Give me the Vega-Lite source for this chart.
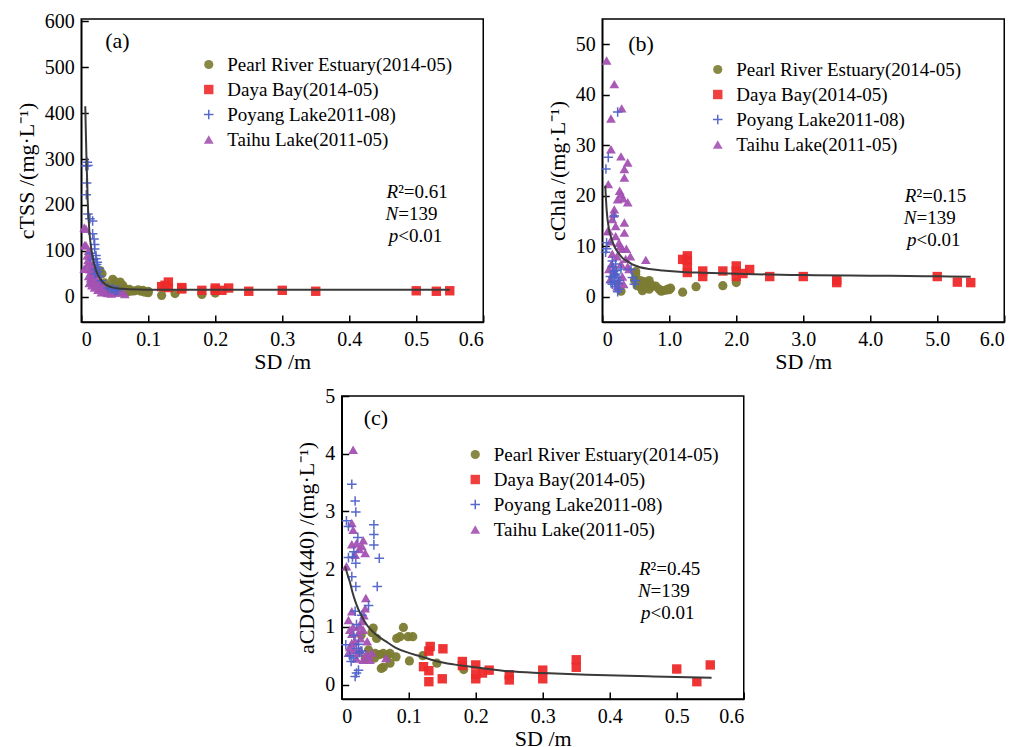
{
  "$schema": "https://vega.github.io/schema/vega-lite/v6.json",
  "background": "white",
  "padding": {"left": 14, "top": 10, "right": 5, "bottom": 5},
  "config": {
    "view": {"stroke": "black", "strokeWidth": 1.5},
    "axis": {"grid": false, "domainColor": "black", "domainWidth": 1.5, "tickColor": "black", "tickWidth": 1.5, "tickSize": -7, "labelFont": "Liberation Serif", "labelFontSize": 20, "labelColor": "black", "titleFont": "Liberation Serif", "titleFontSize": 22, "titleFontWeight": "normal", "titleColor": "black", "labelPadding": 14},
    "axisY": {"titlePadding": 6},
    "axisX": {"titlePadding": 2},
    "legend": {"labelFont": "Liberation Serif", "labelFontSize": 19, "labelColor": "black", "rowPadding": 5, "labelOffset": 9, "padding": 0, "symbolStrokeWidth": 1.5, "labelLimit": 400},
    "text": {"font": "Liberation Serif", "fontSize": 20, "color": "black", "lineBreak": "\n"}
  },
  "datasets": {
    "pts": [
      {"p":"a","s":"P","x":0.028,"y":57},{"p":"a","s":"P","x":0.031,"y":50},{"p":"a","s":"P","x":0.035,"y":30},{"p":"a","s":"P","x":0.04,"y":22},{"p":"a","s":"P","x":0.045,"y":16},{"p":"a","s":"P","x":0.047,"y":38},{"p":"a","s":"P","x":0.05,"y":33},{"p":"a","s":"P","x":0.052,"y":28},{"p":"a","s":"P","x":0.055,"y":20},{"p":"a","s":"P","x":0.058,"y":32},{"p":"a","s":"P","x":0.06,"y":14},{"p":"a","s":"P","x":0.062,"y":25},{"p":"a","s":"P","x":0.065,"y":18},{"p":"a","s":"P","x":0.068,"y":10},{"p":"a","s":"P","x":0.07,"y":14},{"p":"a","s":"P","x":0.072,"y":16},{"p":"a","s":"P","x":0.075,"y":12},{"p":"a","s":"P","x":0.08,"y":13},{"p":"a","s":"P","x":0.085,"y":15},{"p":"a","s":"P","x":0.089,"y":12},{"p":"a","s":"P","x":0.092,"y":14},{"p":"a","s":"P","x":0.095,"y":10},{"p":"a","s":"P","x":0.1,"y":12},{"p":"a","s":"P","x":0.1,"y":9},{"p":"a","s":"P","x":0.12,"y":3},{"p":"a","s":"P","x":0.14,"y":7},{"p":"a","s":"P","x":0.18,"y":5},{"p":"a","s":"P","x":0.2,"y":8},
      {"p":"a","s":"D","x":0.12,"y":22},{"p":"a","s":"D","x":0.125,"y":25},{"p":"a","s":"D","x":0.13,"y":32},{"p":"a","s":"D","x":0.13,"y":20},{"p":"a","s":"D","x":0.15,"y":17},{"p":"a","s":"D","x":0.15,"y":20},{"p":"a","s":"D","x":0.18,"y":14},{"p":"a","s":"D","x":0.2,"y":19},{"p":"a","s":"D","x":0.2,"y":14},{"p":"a","s":"D","x":0.21,"y":14},{"p":"a","s":"D","x":0.22,"y":19},{"p":"a","s":"D","x":0.25,"y":12},{"p":"a","s":"D","x":0.3,"y":14},{"p":"a","s":"D","x":0.35,"y":12},{"p":"a","s":"D","x":0.5,"y":13},{"p":"a","s":"D","x":0.53,"y":12},{"p":"a","s":"D","x":0.55,"y":13},
      {"p":"a","s":"T","x":0.0045,"y":151},{"p":"a","s":"T","x":0.007,"y":148},{"p":"a","s":"T","x":0.005,"y":112},{"p":"a","s":"T","x":0.007,"y":112},{"p":"a","s":"T","x":0.014,"y":90},{"p":"a","s":"T","x":0.009,"y":90},{"p":"a","s":"T","x":0.011,"y":100},{"p":"a","s":"T","x":0.009,"y":68},{"p":"a","s":"T","x":0.0045,"y":61},{"p":"a","s":"T","x":0.01,"y":80},{"p":"a","s":"T","x":0.012,"y":75},{"p":"a","s":"T","x":0.013,"y":60},{"p":"a","s":"T","x":0.015,"y":55},{"p":"a","s":"T","x":0.016,"y":70},{"p":"a","s":"T","x":0.018,"y":65},{"p":"a","s":"T","x":0.018,"y":55},{"p":"a","s":"T","x":0.011,"y":45},{"p":"a","s":"T","x":0.014,"y":40},{"p":"a","s":"T","x":0.015,"y":35},{"p":"a","s":"T","x":0.017,"y":45},{"p":"a","s":"T","x":0.019,"y":35},{"p":"a","s":"T","x":0.02,"y":50},{"p":"a","s":"T","x":0.022,"y":40},{"p":"a","s":"T","x":0.022,"y":25},{"p":"a","s":"T","x":0.024,"y":30},{"p":"a","s":"T","x":0.026,"y":25},{"p":"a","s":"T","x":0.027,"y":18},{"p":"a","s":"T","x":0.028,"y":30},{"p":"a","s":"T","x":0.03,"y":20},{"p":"a","s":"T","x":0.032,"y":15},{"p":"a","s":"T","x":0.033,"y":22},{"p":"a","s":"T","x":0.035,"y":12},{"p":"a","s":"T","x":0.038,"y":10},{"p":"a","s":"T","x":0.012,"y":30},{"p":"a","s":"T","x":0.016,"y":25},{"p":"a","s":"T","x":0.02,"y":20},{"p":"a","s":"T","x":0.025,"y":15},{"p":"a","s":"T","x":0.03,"y":10},{"p":"a","s":"T","x":0.04,"y":8},{"p":"a","s":"T","x":0.045,"y":7},{"p":"a","s":"T","x":0.05,"y":10},{"p":"a","s":"T","x":0.055,"y":9},{"p":"a","s":"T","x":0.06,"y":10},{"p":"a","s":"T","x":0.065,"y":6},
      {"p":"a","s":"Y","x":0.009,"y":293},{"p":"a","s":"Y","x":0.007,"y":285},{"p":"a","s":"Y","x":0.01,"y":286},{"p":"a","s":"Y","x":0.008,"y":248},{"p":"a","s":"Y","x":0.0075,"y":222},{"p":"a","s":"Y","x":0.01,"y":180},{"p":"a","s":"Y","x":0.013,"y":170},{"p":"a","s":"Y","x":0.017,"y":165},{"p":"a","s":"Y","x":0.017,"y":137},{"p":"a","s":"Y","x":0.019,"y":126},{"p":"a","s":"Y","x":0.02,"y":114},{"p":"a","s":"Y","x":0.02,"y":104},{"p":"a","s":"Y","x":0.015,"y":95},{"p":"a","s":"Y","x":0.022,"y":90},{"p":"a","s":"Y","x":0.022,"y":83},{"p":"a","s":"Y","x":0.018,"y":80},{"p":"a","s":"Y","x":0.024,"y":75},{"p":"a","s":"Y","x":0.023,"y":70},{"p":"a","s":"Y","x":0.026,"y":62},{"p":"a","s":"Y","x":0.022,"y":60},{"p":"a","s":"Y","x":0.025,"y":55},{"p":"a","s":"Y","x":0.021,"y":50},{"p":"a","s":"Y","x":0.028,"y":45},{"p":"a","s":"Y","x":0.03,"y":35},{"p":"a","s":"Y","x":0.04,"y":19},{"p":"a","s":"Y","x":0.044,"y":17},{"p":"a","s":"Y","x":0.047,"y":17},{"p":"a","s":"Y","x":0.05,"y":14},{"p":"a","s":"Y","x":0.052,"y":13},{"p":"a","s":"Y","x":0.055,"y":15},

      {"p":"b","s":"P","x":0.28,"y":1.1},{"p":"b","s":"P","x":0.5,"y":4.4},{"p":"b","s":"P","x":0.5,"y":5},{"p":"b","s":"P","x":0.48,"y":3.3},{"p":"b","s":"P","x":0.55,"y":2.5},{"p":"b","s":"P","x":0.58,"y":1.8},{"p":"b","s":"P","x":0.6,"y":1.2},{"p":"b","s":"P","x":0.65,"y":2},{"p":"b","s":"P","x":0.68,"y":2.8},{"p":"b","s":"P","x":0.7,"y":3.2},{"p":"b","s":"P","x":0.7,"y":1.5},{"p":"b","s":"P","x":0.75,"y":2.1},{"p":"b","s":"P","x":0.8,"y":2.1},{"p":"b","s":"P","x":0.85,"y":1.5},{"p":"b","s":"P","x":0.88,"y":1.1},{"p":"b","s":"P","x":0.9,"y":1.2},{"p":"b","s":"P","x":0.98,"y":1.5},{"p":"b","s":"P","x":1.0,"y":1.4},{"p":"b","s":"P","x":1.2,"y":0.9},{"p":"b","s":"P","x":1.4,"y":2},{"p":"b","s":"P","x":1.8,"y":2.2},{"p":"b","s":"P","x":2.0,"y":2.8},{"p":"b","s":"P","x":0.62,"y":3},{"p":"b","s":"P","x":0.72,"y":2.4},{"p":"b","s":"P","x":0.52,"y":2.2},{"p":"b","s":"P","x":1.02,"y":1.7},{"p":"b","s":"P","x":0.57,"y":3.2},{"p":"b","s":"P","x":0.95,"y":1.3},
      {"p":"b","s":"D","x":1.2,"y":7.4},{"p":"b","s":"D","x":1.27,"y":8.1},{"p":"b","s":"D","x":1.27,"y":7.2},{"p":"b","s":"D","x":1.27,"y":6},{"p":"b","s":"D","x":1.27,"y":4.8},{"p":"b","s":"D","x":1.5,"y":5.1},{"p":"b","s":"D","x":1.5,"y":4},{"p":"b","s":"D","x":1.8,"y":5.1},{"p":"b","s":"D","x":2.0,"y":6.1},{"p":"b","s":"D","x":2.0,"y":5.1},{"p":"b","s":"D","x":2.0,"y":4},{"p":"b","s":"D","x":2.1,"y":4.6},{"p":"b","s":"D","x":2.2,"y":5.4},{"p":"b","s":"D","x":2.5,"y":4},{"p":"b","s":"D","x":3.0,"y":4},{"p":"b","s":"D","x":3.5,"y":3.3},{"p":"b","s":"D","x":3.5,"y":2.8},{"p":"b","s":"D","x":5.0,"y":4},{"p":"b","s":"D","x":5.3,"y":2.9},{"p":"b","s":"D","x":5.5,"y":2.8},
      {"p":"b","s":"T","x":0.065,"y":46.8},{"p":"b","s":"T","x":0.18,"y":42.1},{"p":"b","s":"T","x":0.13,"y":35.3},{"p":"b","s":"T","x":0.29,"y":37.3},{"p":"b","s":"T","x":0.13,"y":29.2},{"p":"b","s":"T","x":0.28,"y":27.8},{"p":"b","s":"T","x":0.38,"y":26.6},{"p":"b","s":"T","x":0.33,"y":25.3},{"p":"b","s":"T","x":0.33,"y":23.6},{"p":"b","s":"T","x":0.09,"y":22.3},{"p":"b","s":"T","x":0.28,"y":20.3},{"p":"b","s":"T","x":0.38,"y":18.7},{"p":"b","s":"T","x":0.23,"y":19.3},{"p":"b","s":"T","x":0.18,"y":17.3},{"p":"b","s":"T","x":0.33,"y":14.7},{"p":"b","s":"T","x":0.15,"y":15.4},{"p":"b","s":"T","x":0.33,"y":12.7},{"p":"b","s":"T","x":0.1,"y":13},{"p":"b","s":"T","x":0.25,"y":10.7},{"p":"b","s":"T","x":0.3,"y":9.5},{"p":"b","s":"T","x":0.65,"y":7.3},{"p":"b","s":"T","x":0.12,"y":11},{"p":"b","s":"T","x":0.2,"y":12},{"p":"b","s":"T","x":0.22,"y":8},{"p":"b","s":"T","x":0.28,"y":6.5},{"p":"b","s":"T","x":0.35,"y":7.5},{"p":"b","s":"T","x":0.15,"y":8.5},{"p":"b","s":"T","x":0.4,"y":5.5},{"p":"b","s":"T","x":0.18,"y":5},{"p":"b","s":"T","x":0.3,"y":4},{"p":"b","s":"T","x":0.25,"y":3},{"p":"b","s":"T","x":0.1,"y":5.5},{"p":"b","s":"T","x":0.38,"y":6},{"p":"b","s":"T","x":0.2,"y":14},{"p":"b","s":"T","x":0.08,"y":13},{"p":"b","s":"T","x":0.42,"y":8},{"p":"b","s":"T","x":0.12,"y":3.5},{"p":"b","s":"T","x":0.32,"y":2.5},{"p":"b","s":"T","x":0.22,"y":2},{"p":"b","s":"T","x":0.27,"y":10},{"p":"b","s":"T","x":0.36,"y":9.5},{"p":"b","s":"T","x":0.17,"y":16.5},{"p":"b","s":"T","x":0.26,"y":21},{"p":"b","s":"T","x":0.31,"y":19.5},{"p":"b","s":"T","x":0.14,"y":6.5},
      {"p":"b","s":"Y","x":0.09,"y":27.6},{"p":"b","s":"Y","x":0.055,"y":25.3},{"p":"b","s":"Y","x":0.23,"y":36.6},{"p":"b","s":"Y","x":0.18,"y":16},{"p":"b","s":"Y","x":0.065,"y":10.7},{"p":"b","s":"Y","x":0.065,"y":9.5},{"p":"b","s":"Y","x":0.05,"y":8.8},{"p":"b","s":"Y","x":0.15,"y":7.1},{"p":"b","s":"Y","x":0.15,"y":6},{"p":"b","s":"Y","x":0.17,"y":5},{"p":"b","s":"Y","x":0.2,"y":4.5},{"p":"b","s":"Y","x":0.22,"y":3.8},{"p":"b","s":"Y","x":0.25,"y":3.2},{"p":"b","s":"Y","x":0.18,"y":3},{"p":"b","s":"Y","x":0.15,"y":2.5},{"p":"b","s":"Y","x":0.2,"y":2},{"p":"b","s":"Y","x":0.25,"y":1.5},{"p":"b","s":"Y","x":0.28,"y":5.5},{"p":"b","s":"Y","x":0.43,"y":5.4},{"p":"b","s":"Y","x":0.45,"y":3.8},{"p":"b","s":"Y","x":0.5,"y":3.2},{"p":"b","s":"Y","x":0.48,"y":2.5},{"p":"b","s":"Y","x":0.12,"y":4},{"p":"b","s":"Y","x":0.2,"y":6.5},{"p":"b","s":"Y","x":0.23,"y":1},{"p":"b","s":"Y","x":0.16,"y":3.8},{"p":"b","s":"Y","x":0.19,"y":4.2},{"p":"b","s":"Y","x":0.21,"y":5.2},{"p":"b","s":"Y","x":0.13,"y":2.8},{"p":"b","s":"Y","x":0.24,"y":2.6},

      {"p":"c","s":"P","x":0.029,"y":0.86},{"p":"c","s":"P","x":0.047,"y":0.98},{"p":"c","s":"P","x":0.052,"y":0.8},{"p":"c","s":"P","x":0.05,"y":0.54},{"p":"c","s":"P","x":0.049,"y":0.46},{"p":"c","s":"P","x":0.062,"y":0.54},{"p":"c","s":"P","x":0.062,"y":0.3},{"p":"c","s":"P","x":0.059,"y":0.28},{"p":"c","s":"P","x":0.072,"y":0.37},{"p":"c","s":"P","x":0.072,"y":0.54},{"p":"c","s":"P","x":0.081,"y":0.48},{"p":"c","s":"P","x":0.082,"y":0.8},{"p":"c","s":"P","x":0.087,"y":0.83},{"p":"c","s":"P","x":0.092,"y":0.99},{"p":"c","s":"P","x":0.099,"y":0.83},{"p":"c","s":"P","x":0.106,"y":0.83},{"p":"c","s":"P","x":0.101,"y":0.41},{"p":"c","s":"P","x":0.121,"y":0.5},{"p":"c","s":"P","x":0.142,"y":0.37},{"p":"c","s":"P","x":0.182,"y":0.26},{"p":"c","s":"P","x":0.057,"y":0.52},{"p":"c","s":"P","x":0.068,"y":0.5},{"p":"c","s":"P","x":0.04,"y":0.6},{"p":"c","s":"P","x":0.035,"y":0.45},{"p":"c","s":"P","x":0.045,"y":0.9},
      {"p":"c","s":"D","x":0.122,"y":0.31},{"p":"c","s":"D","x":0.132,"y":0.66},{"p":"c","s":"D","x":0.13,"y":0.58},{"p":"c","s":"D","x":0.13,"y":0.24},{"p":"c","s":"D","x":0.13,"y":0.05},{"p":"c","s":"D","x":0.151,"y":0.62},{"p":"c","s":"D","x":0.15,"y":0.1},{"p":"c","s":"D","x":0.18,"y":0.4},{"p":"c","s":"D","x":0.18,"y":0.33},{"p":"c","s":"D","x":0.2,"y":0.34},{"p":"c","s":"D","x":0.2,"y":0.18},{"p":"c","s":"D","x":0.2,"y":0.1},{"p":"c","s":"D","x":0.21,"y":0.2},{"p":"c","s":"D","x":0.22,"y":0.25},{"p":"c","s":"D","x":0.25,"y":0.17},{"p":"c","s":"D","x":0.25,"y":0.08},{"p":"c","s":"D","x":0.3,"y":0.25},{"p":"c","s":"D","x":0.3,"y":0.1},{"p":"c","s":"D","x":0.35,"y":0.43},{"p":"c","s":"D","x":0.35,"y":0.3},{"p":"c","s":"D","x":0.5,"y":0.27},{"p":"c","s":"D","x":0.53,"y":0.05},{"p":"c","s":"D","x":0.55,"y":0.34},
      {"p":"c","s":"T","x":0.017,"y":4.07},{"p":"c","s":"T","x":0.015,"y":2.8},{"p":"c","s":"T","x":0.017,"y":2.68},{"p":"c","s":"T","x":0.015,"y":2.43},{"p":"c","s":"T","x":0.03,"y":2.4},{"p":"c","s":"T","x":0.032,"y":2.5},{"p":"c","s":"T","x":0.035,"y":2.28},{"p":"c","s":"T","x":0.02,"y":2.25},{"p":"c","s":"T","x":0.007,"y":2.05},{"p":"c","s":"T","x":0.036,"y":1.5},{"p":"c","s":"T","x":0.035,"y":1.32},{"p":"c","s":"T","x":0.015,"y":1.27},{"p":"c","s":"T","x":0.01,"y":1.12},{"p":"c","s":"T","x":0.03,"y":1.1},{"p":"c","s":"T","x":0.017,"y":1.0},{"p":"c","s":"T","x":0.032,"y":0.95},{"p":"c","s":"T","x":0.015,"y":0.88},{"p":"c","s":"T","x":0.015,"y":0.72},{"p":"c","s":"T","x":0.01,"y":0.55},{"p":"c","s":"T","x":0.028,"y":0.6},{"p":"c","s":"T","x":0.037,"y":0.52},{"p":"c","s":"T","x":0.042,"y":0.43},{"p":"c","s":"T","x":0.032,"y":0.43},{"p":"c","s":"T","x":0.066,"y":0.46},{"p":"c","s":"T","x":0.02,"y":0.75},{"p":"c","s":"T","x":0.025,"y":0.9},{"p":"c","s":"T","x":0.024,"y":0.55},{"p":"c","s":"T","x":0.018,"y":0.6},{"p":"c","s":"T","x":0.022,"y":0.45},{"p":"c","s":"T","x":0.012,"y":0.65},{"p":"c","s":"T","x":0.04,"y":0.5},{"p":"c","s":"T","x":0.027,"y":1.02},{"p":"c","s":"T","x":0.033,"y":1.2},{"p":"c","s":"T","x":0.012,"y":0.95},{"p":"c","s":"T","x":0.026,"y":2.35},{"p":"c","s":"T","x":0.022,"y":2.45},{"p":"c","s":"T","x":0.038,"y":0.75},{"p":"c","s":"T","x":0.028,"y":0.8},{"p":"c","s":"T","x":0.045,"y":0.55},
      {"p":"c","s":"Y","x":0.015,"y":3.47},{"p":"c","s":"Y","x":0.02,"y":3.18},{"p":"c","s":"Y","x":0.021,"y":2.99},{"p":"c","s":"Y","x":0.01,"y":2.74},{"p":"c","s":"Y","x":0.007,"y":2.84},{"p":"c","s":"Y","x":0.048,"y":2.77},{"p":"c","s":"Y","x":0.048,"y":2.6},{"p":"c","s":"Y","x":0.048,"y":2.42},{"p":"c","s":"Y","x":0.056,"y":2.19},{"p":"c","s":"Y","x":0.053,"y":1.7},{"p":"c","s":"Y","x":0.021,"y":1.7},{"p":"c","s":"Y","x":0.015,"y":1.87},{"p":"c","s":"Y","x":0.021,"y":2.1},{"p":"c","s":"Y","x":0.016,"y":2.21},{"p":"c","s":"Y","x":0.01,"y":2.2},{"p":"c","s":"Y","x":0.018,"y":2.3},{"p":"c","s":"Y","x":0.04,"y":1.37},{"p":"c","s":"Y","x":0.02,"y":1.27},{"p":"c","s":"Y","x":0.022,"y":1.04},{"p":"c","s":"Y","x":0.006,"y":0.69},{"p":"c","s":"Y","x":0.022,"y":0.63},{"p":"c","s":"Y","x":0.017,"y":0.46},{"p":"c","s":"Y","x":0.025,"y":0.25},{"p":"c","s":"Y","x":0.02,"y":0.14},{"p":"c","s":"Y","x":0.022,"y":0.2},{"p":"c","s":"Y","x":0.03,"y":1.2},{"p":"c","s":"Y","x":0.026,"y":0.55},{"p":"c","s":"Y","x":0.018,"y":0.85},{"p":"c","s":"Y","x":0.012,"y":0.5},{"p":"c","s":"Y","x":0.025,"y":0.7},{"p":"c","s":"Y","x":0.03,"y":0.58},{"p":"c","s":"Y","x":0.014,"y":0.4},{"p":"c","s":"Y","x":0.024,"y":2.55}
    ],
    "fit": [
      {"p":"a","x":0.006,"y":415},{"p":"a","x":0.007,"y":350},{"p":"a","x":0.008,"y":290},{"p":"a","x":0.009,"y":245},{"p":"a","x":0.0095,"y":215},{"p":"a","x":0.011,"y":170},{"p":"a","x":0.012,"y":145},{"p":"a","x":0.014,"y":115},{"p":"a","x":0.016,"y":95},{"p":"a","x":0.018,"y":80},{"p":"a","x":0.02,"y":68},{"p":"a","x":0.022,"y":58},{"p":"a","x":0.025,"y":47},{"p":"a","x":0.028,"y":39},{"p":"a","x":0.032,"y":32},{"p":"a","x":0.037,"y":26},{"p":"a","x":0.045,"y":21},{"p":"a","x":0.055,"y":18},{"p":"a","x":0.07,"y":16.5},{"p":"a","x":0.1,"y":15.5},{"p":"a","x":0.2,"y":15},{"p":"a","x":0.3,"y":15},{"p":"a","x":0.4,"y":15},{"p":"a","x":0.55,"y":15},
      {"p":"b","x":0.045,"y":22},{"p":"b","x":0.065,"y":17.3},{"p":"b","x":0.1,"y":13.4},{"p":"b","x":0.14,"y":11.5},{"p":"b","x":0.18,"y":10},{"p":"b","x":0.24,"y":8.7},{"p":"b","x":0.3,"y":7.7},{"p":"b","x":0.38,"y":7},{"p":"b","x":0.45,"y":6.4},{"p":"b","x":0.55,"y":5.9},{"p":"b","x":0.7,"y":5.5},{"p":"b","x":0.9,"y":5.2},{"p":"b","x":1.2,"y":4.9},{"p":"b","x":1.5,"y":4.75},{"p":"b","x":1.9,"y":4.6},{"p":"b","x":2.5,"y":4.4},{"p":"b","x":3.0,"y":4.3},{"p":"b","x":3.7,"y":4.2},{"p":"b","x":4.3,"y":4.15},{"p":"b","x":5.0,"y":4.05},{"p":"b","x":5.5,"y":3.95},
      {"p":"c","x":0.005,"y":2.05},{"p":"c","x":0.008,"y":1.93},{"p":"c","x":0.012,"y":1.78},{"p":"c","x":0.016,"y":1.6},{"p":"c","x":0.02,"y":1.45},{"p":"c","x":0.025,"y":1.3},{"p":"c","x":0.03,"y":1.18},{"p":"c","x":0.037,"y":1.04},{"p":"c","x":0.045,"y":0.93},{"p":"c","x":0.055,"y":0.83},{"p":"c","x":0.067,"y":0.74},{"p":"c","x":0.08,"y":0.64},{"p":"c","x":0.1,"y":0.55},{"p":"c","x":0.117,"y":0.49},{"p":"c","x":0.14,"y":0.41},{"p":"c","x":0.167,"y":0.35},{"p":"c","x":0.2,"y":0.3},{"p":"c","x":0.25,"y":0.23},{"p":"c","x":0.3,"y":0.2},{"p":"c","x":0.366,"y":0.17},{"p":"c","x":0.465,"y":0.14},{"p":"c","x":0.552,"y":0.12}
    ]
  },
  "vconcat": [
    {
      "hconcat": [
        {
          "width": 402, "height": 303,
          "layer": [
            {
              "data": {"name": "pts"},
              "transform": [{"filter": "datum.p == 'a'"}],
              "mark": {"type": "point", "filled": true, "opacity": 0.95, "strokeWidth": 1.5},
              "encoding": {
                "x": {"field": "x", "type": "quantitative", "scale": {"domain": [0, 0.6], "nice": false, "zero": false}, "axis": {"values": [0, 0.1, 0.2, 0.3, 0.4, 0.5, 0.6], "labelExpr": "datum.value == 0 ? '0' : format(datum.value, '.1f')", "title": "SD /m"}},
                "y": {"field": "y", "type": "quantitative", "scale": {"domain": [-55, 605], "nice": false, "zero": false}, "axis": {"values": [0, 100, 200, 300, 400, 500, 600], "format": "d", "title": "cTSS /(mg·L⁻¹)"}},
                "fill": {"field": "s", "type": "nominal", "scale": {"domain": ["P", "D", "Y", "T"], "range": ["#7c7c33", "#ee2a2a", "transparent", "#a452b3"]}, "legend": {"orient": "none", "legendX": 118, "legendY": 36, "title": null, "labelExpr": "datum.label == 'P' ? 'Pearl River Estuary(2014-05)' : datum.label == 'D' ? 'Daya Bay(2014-05)' : datum.label == 'Y' ? 'Poyang Lake2011-08)' : 'Taihu Lake(2011-05)'"}},
                "stroke": {"field": "s", "type": "nominal", "scale": {"domain": ["P", "D", "Y", "T"], "range": ["transparent", "transparent", "#4f62c9", "transparent"]}, "legend": {"orient": "none", "legendX": 118, "legendY": 36, "title": null, "labelExpr": "datum.label == 'P' ? 'Pearl River Estuary(2014-05)' : datum.label == 'D' ? 'Daya Bay(2014-05)' : datum.label == 'Y' ? 'Poyang Lake2011-08)' : 'Taihu Lake(2011-05)'"}},
                "shape": {"field": "s", "type": "nominal", "scale": {"domain": ["P", "D", "Y", "T"], "range": ["circle", "square", "M-1,0L1,0M0,-1L0,1", "triangle-up"]}, "legend": {"orient": "none", "legendX": 118, "legendY": 36, "title": null, "labelExpr": "datum.label == 'P' ? 'Pearl River Estuary(2014-05)' : datum.label == 'D' ? 'Daya Bay(2014-05)' : datum.label == 'Y' ? 'Poyang Lake2011-08)' : 'Taihu Lake(2011-05)'"}},
                "size": {"field": "s", "type": "nominal", "scale": {"domain": ["P", "D", "Y", "T"], "range": [85, 95, 110, 140]}, "legend": {"orient": "none", "legendX": 118, "legendY": 36, "title": null, "labelExpr": "datum.label == 'P' ? 'Pearl River Estuary(2014-05)' : datum.label == 'D' ? 'Daya Bay(2014-05)' : datum.label == 'Y' ? 'Poyang Lake2011-08)' : 'Taihu Lake(2011-05)'"}}
              }
            },
            {
              "data": {"name": "fit"},
              "transform": [{"filter": "datum.p == 'a'"}],
              "mark": {"type": "line", "color": "#3a3a3a", "strokeWidth": 2, "interpolate": "monotone"},
              "encoding": {"x": {"field": "x", "type": "quantitative"}, "y": {"field": "y", "type": "quantitative"}}
            },
            {
              "data": {"values": [{}]},
              "mark": {"type": "text", "text": "(a)", "align": "center", "baseline": "middle", "fontSize": 22},
              "encoding": {"x": {"datum": 0.054, "type": "quantitative"}, "y": {"datum": 557, "type": "quantitative"}}
            },
            {
              "data": {"values": [{}]},
              "mark": {"type": "text", "text": "R\nN\np", "align": "right", "baseline": "top", "fontSize": 19, "fontStyle": "italic", "lineHeight": 22},
              "encoding": {"x": {"datum": 0.473, "type": "quantitative"}, "y": {"datum": 248, "type": "quantitative"}}
            },
            {
              "data": {"values": [{}]},
              "mark": {"type": "text", "text": "²=0.61\n=139\n<0.01", "align": "left", "baseline": "top", "fontSize": 19, "lineHeight": 22},
              "encoding": {"x": {"datum": 0.473, "type": "quantitative"}, "y": {"datum": 248, "type": "quantitative"}}
            }
          ]
        },
        {
          "width": 402, "height": 303,
          "layer": [
            {
              "data": {"name": "pts"},
              "transform": [{"filter": "datum.p == 'b'"}],
              "mark": {"type": "point", "filled": true, "opacity": 0.95, "strokeWidth": 1.5},
              "encoding": {
                "x": {"field": "x", "type": "quantitative", "scale": {"domain": [0, 6], "nice": false, "zero": false}, "axis": {"values": [0, 1, 2, 3, 4, 5, 6], "labelExpr": "datum.value == 0 ? '0' : format(datum.value, '.1f')", "title": "SD /m"}},
                "y": {"field": "y", "type": "quantitative", "scale": {"domain": [-5, 55], "nice": false, "zero": false}, "axis": {"values": [0, 10, 20, 30, 40, 50], "format": "d", "title": "cChla /(mg·L⁻¹)"}},
                "fill": {"field": "s", "type": "nominal", "scale": {"domain": ["P", "D", "Y", "T"], "range": ["#7c7c33", "#ee2a2a", "transparent", "#a452b3"]}, "legend": {"orient": "none", "legendX": 106, "legendY": 41, "title": null, "labelExpr": "datum.label == 'P' ? 'Pearl River Estuary(2014-05)' : datum.label == 'D' ? 'Daya Bay(2014-05)' : datum.label == 'Y' ? 'Poyang Lake2011-08)' : 'Taihu Lake(2011-05)'"}},
                "stroke": {"field": "s", "type": "nominal", "scale": {"domain": ["P", "D", "Y", "T"], "range": ["transparent", "transparent", "#4f62c9", "transparent"]}, "legend": {"orient": "none", "legendX": 106, "legendY": 41, "title": null, "labelExpr": "datum.label == 'P' ? 'Pearl River Estuary(2014-05)' : datum.label == 'D' ? 'Daya Bay(2014-05)' : datum.label == 'Y' ? 'Poyang Lake2011-08)' : 'Taihu Lake(2011-05)'"}},
                "shape": {"field": "s", "type": "nominal", "scale": {"domain": ["P", "D", "Y", "T"], "range": ["circle", "square", "M-1,0L1,0M0,-1L0,1", "triangle-up"]}, "legend": {"orient": "none", "legendX": 106, "legendY": 41, "title": null, "labelExpr": "datum.label == 'P' ? 'Pearl River Estuary(2014-05)' : datum.label == 'D' ? 'Daya Bay(2014-05)' : datum.label == 'Y' ? 'Poyang Lake2011-08)' : 'Taihu Lake(2011-05)'"}},
                "size": {"field": "s", "type": "nominal", "scale": {"domain": ["P", "D", "Y", "T"], "range": [85, 95, 110, 140]}, "legend": {"orient": "none", "legendX": 106, "legendY": 41, "title": null, "labelExpr": "datum.label == 'P' ? 'Pearl River Estuary(2014-05)' : datum.label == 'D' ? 'Daya Bay(2014-05)' : datum.label == 'Y' ? 'Poyang Lake2011-08)' : 'Taihu Lake(2011-05)'"}}
              }
            },
            {
              "data": {"name": "fit"},
              "transform": [{"filter": "datum.p == 'b'"}],
              "mark": {"type": "line", "color": "#3a3a3a", "strokeWidth": 2, "interpolate": "monotone"},
              "encoding": {"x": {"field": "x", "type": "quantitative"}, "y": {"field": "y", "type": "quantitative"}}
            },
            {
              "data": {"values": [{}]},
              "mark": {"type": "text", "text": "(b)", "align": "center", "baseline": "middle", "fontSize": 22},
              "encoding": {"x": {"datum": 0.58, "type": "quantitative"}, "y": {"datum": 50, "type": "quantitative"}}
            },
            {
              "data": {"values": [{}]},
              "mark": {"type": "text", "text": "R\nN\np", "align": "right", "baseline": "top", "fontSize": 19, "fontStyle": "italic", "lineHeight": 22},
              "encoding": {"x": {"datum": 4.69, "type": "quantitative"}, "y": {"datum": 21.8, "type": "quantitative"}}
            },
            {
              "data": {"values": [{}]},
              "mark": {"type": "text", "text": "²=0.15\n=139\n<0.01", "align": "left", "baseline": "top", "fontSize": 19, "lineHeight": 22},
              "encoding": {"x": {"datum": 4.69, "type": "quantitative"}, "y": {"datum": 21.8, "type": "quantitative"}}
            }
          ]
        }
      ],
      "spacing": 60,
      "resolve": {"scale": {"fill": "independent", "stroke": "independent", "shape": "independent", "size": "independent"}, "legend": {"fill": "independent", "stroke": "independent", "shape": "independent", "size": "independent"}}
    },
    {
      "width": 402, "height": 303,
      "layer": [
        {
          "data": {"name": "pts"},
          "transform": [{"filter": "datum.p == 'c'"}],
          "mark": {"type": "point", "filled": true, "opacity": 0.95, "strokeWidth": 1.5},
          "encoding": {
            "x": {"field": "x", "type": "quantitative", "scale": {"domain": [0, 0.6], "nice": false, "zero": false}, "axis": {"values": [0, 0.1, 0.2, 0.3, 0.4, 0.5, 0.6], "labelExpr": "datum.value == 0 ? '0' : format(datum.value, '.1f')", "title": "SD /m"}},
            "y": {"field": "y", "type": "quantitative", "scale": {"domain": [-0.25, 5], "nice": false, "zero": false}, "axis": {"values": [0, 1, 2, 3, 4, 5], "format": "d", "title": "aCDOM(440) /(mg·L⁻¹)"}},
            "fill": {"field": "s", "type": "nominal", "scale": {"domain": ["P", "D", "Y", "T"], "range": ["#7c7c33", "#ee2a2a", "transparent", "#a452b3"]}, "legend": {"orient": "none", "legendX": 124, "legendY": 49, "title": null, "labelExpr": "datum.label == 'P' ? 'Pearl River Estuary(2014-05)' : datum.label == 'D' ? 'Daya Bay(2014-05)' : datum.label == 'Y' ? 'Poyang Lake2011-08)' : 'Taihu Lake(2011-05)'"}},
            "stroke": {"field": "s", "type": "nominal", "scale": {"domain": ["P", "D", "Y", "T"], "range": ["transparent", "transparent", "#4f62c9", "transparent"]}, "legend": {"orient": "none", "legendX": 124, "legendY": 49, "title": null, "labelExpr": "datum.label == 'P' ? 'Pearl River Estuary(2014-05)' : datum.label == 'D' ? 'Daya Bay(2014-05)' : datum.label == 'Y' ? 'Poyang Lake2011-08)' : 'Taihu Lake(2011-05)'"}},
            "shape": {"field": "s", "type": "nominal", "scale": {"domain": ["P", "D", "Y", "T"], "range": ["circle", "square", "M-1,0L1,0M0,-1L0,1", "triangle-up"]}, "legend": {"orient": "none", "legendX": 124, "legendY": 49, "title": null, "labelExpr": "datum.label == 'P' ? 'Pearl River Estuary(2014-05)' : datum.label == 'D' ? 'Daya Bay(2014-05)' : datum.label == 'Y' ? 'Poyang Lake2011-08)' : 'Taihu Lake(2011-05)'"}},
            "size": {"field": "s", "type": "nominal", "scale": {"domain": ["P", "D", "Y", "T"], "range": [85, 95, 110, 140]}, "legend": {"orient": "none", "legendX": 124, "legendY": 49, "title": null, "labelExpr": "datum.label == 'P' ? 'Pearl River Estuary(2014-05)' : datum.label == 'D' ? 'Daya Bay(2014-05)' : datum.label == 'Y' ? 'Poyang Lake2011-08)' : 'Taihu Lake(2011-05)'"}}
          }
        },
        {
          "data": {"name": "fit"},
          "transform": [{"filter": "datum.p == 'c'"}],
          "mark": {"type": "line", "color": "#3a3a3a", "strokeWidth": 2, "interpolate": "monotone"},
          "encoding": {"x": {"field": "x", "type": "quantitative"}, "y": {"field": "y", "type": "quantitative"}}
        },
        {
          "data": {"values": [{}]},
          "mark": {"type": "text", "text": "(c)", "align": "center", "baseline": "middle", "fontSize": 22},
          "encoding": {"x": {"datum": 0.051, "type": "quantitative"}, "y": {"datum": 4.62, "type": "quantitative"}}
        },
        {
          "data": {"values": [{}]},
          "mark": {"type": "text", "text": "R\nN\np", "align": "right", "baseline": "top", "fontSize": 19, "fontStyle": "italic", "lineHeight": 22},
          "encoding": {"x": {"datum": 0.461, "type": "quantitative"}, "y": {"datum": 2.15, "type": "quantitative"}}
        },
        {
          "data": {"values": [{}]},
          "mark": {"type": "text", "text": "²=0.45\n=139\n<0.01", "align": "left", "baseline": "top", "fontSize": 19, "lineHeight": 22},
          "encoding": {"x": {"datum": 0.461, "type": "quantitative"}, "y": {"datum": 2.15, "type": "quantitative"}}
        }
      ]
    }
  ],
  "spacing": 12,
  "center": true,
  "resolve": {"scale": {"fill": "independent", "stroke": "independent", "shape": "independent", "size": "independent"}, "legend": {"fill": "independent", "stroke": "independent", "shape": "independent", "size": "independent"}}
}
